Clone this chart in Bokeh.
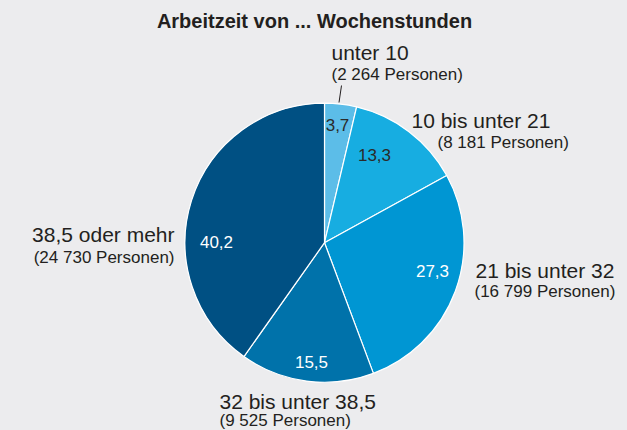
import math
from bokeh.plotting import figure
from bokeh.models import Range1d, ColumnDataSource
from bokeh.core.properties import value
from bokeh.embed import file_html
from bokeh.resources import INLINE

# ---- data ----
categories = ["unter 10", "10 bis unter 21", "21 bis unter 32", "32 bis unter 38,5", "38,5 oder mehr"]
shares = [3.7, 13.3, 27.3, 15.5, 40.2]
persons = ["2 264", "8 181", "16 799", "9 525", "24 730"]
title_text = "Arbeitzeit von ... Wochenstunden"

# ---- style ----
colors = ["#5cbde8", "#17ade1", "#0096d3", "#0072aa", "#005083"]
value_colors = ["#2a2a2a", "#2a2a2a", "#ffffff", "#ffffff", "#ffffff"]
BG = "#ececee"
TXT = "#231f20"
FONT = value("Liberation Sans")

W, H = 627, 430
def X(px):
    return px
def Y(py):
    return H - py

cx, cy, R = X(324), Y(242.2), 139.5

p = figure(width=W, height=H, output_backend="svg", toolbar_location=None,
           x_range=Range1d(0, W), y_range=Range1d(0, H), min_border=0)
p.axis.visible = False
p.grid.visible = False
p.outline_line_color = None
p.background_fill_color = BG
p.border_fill_color = BG

total = sum(shares)
starts, ends, cum = [], [], 0.0
for s in shares:
    starts.append(math.pi / 2 - 2 * math.pi * cum / total)
    cum += s
    ends.append(math.pi / 2 - 2 * math.pi * cum / total)

src = ColumnDataSource(dict(start=starts, end=ends, color=colors))
p.wedge(x=cx, y=cy, radius=R, start_angle="start", end_angle="end", direction="clock",
        fill_color="color", line_color="white", line_width=1.2, source=src)

# value labels inside slices (page pixel anchor positions, layout only)
val_pos = [(337, 124), (374, 154), (432, 270), (311, 361), (216, 241)]
vlabels = [f"{s:.1f}".replace(".", ",") for s in shares]
p.text(x=[X(a) for a, b in val_pos], y=[Y(b) for a, b in val_pos], text=vlabels,
       text_color=value_colors, text_font=FONT, text_font_size="17px",
       text_align="center", text_baseline="middle")

# category labels (layout: page px anchor, alignment)
cat_pos = [(331, 52, "left"), (411, 120, "left"), (475, 270, "left"), (219, 401, "left"), (174, 234, "right")]
per_pos = [(331, 74, "left"), (437, 142, "left"), (474, 291, "left"), (219, 420, "left"), (174, 257, "right")]
for (a, b, al), c in zip(cat_pos, categories):
    p.text(x=[X(a)], y=[Y(b)], text=[c], text_color=TXT, text_font=FONT,
           text_font_size="21px", text_align=al, text_baseline="middle")
for (a, b, al), n in zip(per_pos, persons):
    p.text(x=[X(a)], y=[Y(b)], text=[f"({n} Personen)"], text_color=TXT, text_font=FONT,
           text_font_size="17px", text_align=al, text_baseline="middle")

# leader line for smallest slice
p.line(x=[X(338.5), X(341)], y=[Y(102), Y(85)], line_color=TXT, line_width=1)

# title
p.text(x=[X(314)], y=[Y(20)], text=[title_text], text_color=TXT, text_font=FONT,
       text_font_size="20px", text_font_style="bold", text_align="center", text_baseline="middle")

html = file_html(p, INLINE)
html = html.replace("<head>", "<head><style>body{background:%s;}</style>" % BG, 1)
open("out.html", "w").write(html)
